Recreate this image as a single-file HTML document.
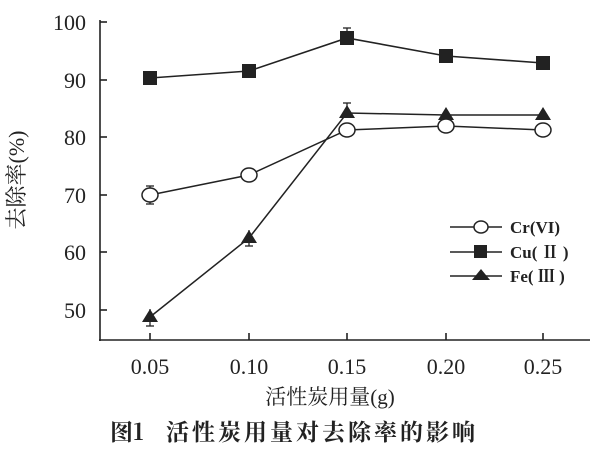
<!DOCTYPE html>
<html><head><meta charset="utf-8"><style>
body{margin:0;background:#fff;}
svg{display:block;font-family:"Liberation Serif","Noto Serif CJK SC",serif;}
</style></head><body>
<svg width="600" height="450" viewBox="0 0 600 450">
<g stroke="#222" stroke-width="1.6" fill="none">
<line x1="100" y1="20" x2="100" y2="341"/>
<line x1="99" y1="340" x2="590" y2="340"/>
<line x1="100" y1="22" x2="107" y2="22"/>
<line x1="100" y1="80" x2="107" y2="80"/>
<line x1="100" y1="137" x2="107" y2="137"/>
<line x1="100" y1="195" x2="107" y2="195"/>
<line x1="100" y1="252" x2="107" y2="252"/>
<line x1="100" y1="310" x2="107" y2="310"/>
<line x1="150" y1="340" x2="150" y2="333"/>
<line x1="249" y1="340" x2="249" y2="333"/>
<line x1="347" y1="340" x2="347" y2="333"/>
<line x1="446" y1="340" x2="446" y2="333"/>
<line x1="543" y1="340" x2="543" y2="333"/>
</g>
<g font-size="22" fill="#222" text-anchor="end">
<text x="86" y="30">100</text><text x="86" y="88">90</text><text x="86" y="145">80</text>
<text x="86" y="203">70</text><text x="86" y="260">60</text><text x="86" y="318">50</text>
</g>
<g font-size="22" fill="#222" text-anchor="middle">
<text x="150" y="374">0.05</text><text x="249" y="374">0.10</text><text x="347" y="374">0.15</text>
<text x="446" y="374">0.20</text><text x="543" y="374">0.25</text>
<text x="330" y="404" font-size="21">活性炭用量(g)</text>
<text x="110" y="440" text-anchor="start" font-size="23" font-weight="bold" font-family="'Noto Serif CJK SC',serif">图1</text>
<text x="166" y="440" text-anchor="start" font-size="23" font-weight="bold" font-family="'Noto Serif CJK SC',serif" letter-spacing="3">活性炭用量对去除率的影响</text>
<text transform="translate(24,180) rotate(-90)" font-size="22">去除率(%)</text>
</g>
<g stroke="#222" stroke-width="1.3">
<line x1="150" y1="186" x2="150" y2="204"/><line x1="146" y1="186" x2="154" y2="186"/><line x1="146" y1="204" x2="154" y2="204"/>
<line x1="150" y1="309" x2="150" y2="326"/><line x1="146" y1="326" x2="154" y2="326"/>
<line x1="249" y1="230" x2="249" y2="246"/><line x1="245" y1="246" x2="253" y2="246"/>
<line x1="347" y1="28" x2="347" y2="45"/><line x1="343" y1="28" x2="351" y2="28"/>
<line x1="347" y1="103" x2="347" y2="113"/><line x1="343" y1="103" x2="351" y2="103"/>
</g>
<polyline fill="none" stroke="#222" stroke-width="1.6" points="150,78 249,71 347,38 446,56 543,63"/>
<g fill="#222">
<rect x="143" y="71" width="14" height="14"/><rect x="242" y="64" width="14" height="14"/>
<rect x="340" y="31" width="14" height="14"/><rect x="439" y="49" width="14" height="14"/>
<rect x="536" y="56" width="14" height="14"/>
</g>
<polyline fill="none" stroke="#222" stroke-width="1.5" points="150,317 249,238 347,113 446,115 543,115"/>
<g fill="#222">
<polygon points="150,309 142,322 158,322"/><polygon points="249,230 241,243 257,243"/>
<polygon points="347,105 339,118 355,118"/><polygon points="446,107 438,120 454,120"/>
<polygon points="543,107 535,120 551,120"/>
</g>
<polyline fill="none" stroke="#222" stroke-width="1.5" points="150,195 249,175 347,130 446,126 543,130"/>
<g fill="#fff" stroke="#222" stroke-width="1.5">
<ellipse cx="150" cy="195" rx="8" ry="7"/><ellipse cx="249" cy="175" rx="8" ry="7"/>
<ellipse cx="347" cy="130" rx="8" ry="7"/><ellipse cx="446" cy="126" rx="8" ry="7"/>
<ellipse cx="543" cy="130" rx="8" ry="7"/>
</g>
<g stroke="#222" stroke-width="1.5">
<line x1="450" y1="227" x2="502" y2="227"/><line x1="450" y1="252" x2="502" y2="252"/><line x1="450" y1="276" x2="502" y2="276"/>
</g>
<ellipse cx="481" cy="227" rx="7" ry="6" fill="#fff" stroke="#222" stroke-width="1.5"/>
<rect x="474" y="245" width="13" height="13" fill="#222"/>
<polygon points="481,269 472,280 490,280" fill="#222"/>
<g font-size="17" font-weight="bold" fill="#222">
<text x="510" y="233">Cr(VI)</text><text x="510" y="258">Cu( Ⅱ )</text><text x="510" y="282">Fe( Ⅲ )</text>
</g>
</svg>
</body></html>
